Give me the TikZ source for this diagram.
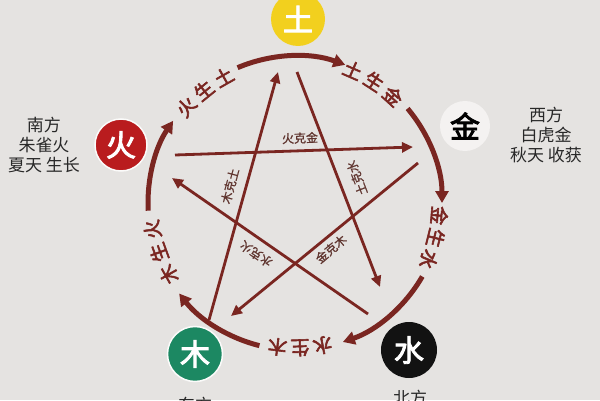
\documentclass[tikz,border=0pt]{standalone}
\usepackage{fontspec}
\usetikzlibrary{arrows.meta}
\newfontfamily\cjk{Noto Sans CJK SC}
\newfontfamily\cjkb{Noto Sans CJK SC}[FakeBold=3]
\newfontfamily\cjkm{Noto Sans CJK SC}[FakeBold=1]
\definecolor{bg}{RGB}{229,227,225}
\definecolor{brn}{RGB}{122,38,33}
\definecolor{lbl}{RGB}{95,52,46}
\definecolor{txt}{RGB}{40,40,40}
\definecolor{fire}{RGB}{185,28,30}
\definecolor{earth}{RGB}{242,208,30}
\definecolor{metal}{RGB}{244,242,241}
\definecolor{wood}{RGB}{28,136,98}
\definecolor{water}{RGB}{18,18,18}
\begin{document}
\begin{tikzpicture}[x=1pt,y=1pt,
  elem/.style={circle,minimum size=#1,inner sep=0pt,font=\cjkb\fontsize{30}{30}\selectfont},
  side/.style={font=\cjk\fontsize{17}{17}\selectfont,text=txt,align=center},
  sheng/.style={brn,line width=5pt,-{Triangle[length=12pt,width=13pt]}},
  ke/.style={brn,line width=2.8pt,-{Triangle[length=11pt,width=10pt]}},
  shlbl/.style={font=\cjkb\fontsize{19}{19}\selectfont,text=brn,inner sep=0pt},
  kelbl/.style={font=\cjkm\fontsize{12}{12}\selectfont,text=lbl,inner sep=0pt}]
\useasboundingbox (0,0) rectangle (600,400);
\clip (0,0) rectangle (600,400);
\fill[bg] (0,0) rectangle (600,400);
\coordinate (C) at (295,197);
% sheng cycle arcs
\draw[sheng] ([shift={(113:147)}]C) arc[start angle=113,end angle=70,radius=147];
\draw[sheng] ([shift={(40:147)}]C) arc[start angle=40,end angle=0,radius=147];
\draw[sheng] ([shift={(-30:147)}]C) arc[start angle=-30,end angle=-71,radius=147];
\draw[sheng] ([shift={(256:147)}]C) arc[start angle=256,end angle=218,radius=147];
\draw[sheng] ([shift={(183:147)}]C) arc[start angle=183,end angle=146,radius=147];
% sheng labels
\foreach \a/\t [count=\i] in {138.5/火,129/生,119.5/土,
  66.5/土,57/生,47.5/金,
  -5/金,-14/生,-23/水,
  -79/水,-88/生,-97/木,
  209.5/木,200/生,190.5/火}{
  \node[shlbl,rotate=\a-90] (s\i) at ([shift={(\a:145)}]C) {\t};
}
% ke (star) arrows
\coordinate (k1a) at (175,245); \coordinate (k1b) at (413,253);
\coordinate (k2a) at (418,237); \coordinate (k2b) at (231,84);
\coordinate (k3a) at (209,80);  \coordinate (k3b) at (278,328);
\coordinate (k4a) at (297,328); \coordinate (k4b) at (380,113);
\coordinate (k5a) at (368,86);  \coordinate (k5b) at (172,222);
\draw[ke] (k1a) -- (k1b);
\draw[ke] (k2a) -- (k2b);
\draw[ke] (k3a) -- (k3b);
\draw[ke] (k4a) -- (k4b);
\draw[ke] (k5a) -- (k5b);
\node[kelbl,rotate=2] (l1) at (300,262) {火克金};
\node[kelbl,rotate=75] (l2) at (230,214) {木克土};
\node[kelbl,rotate=111] (l3) at (357,222) {土克水};
\node[kelbl,rotate=146] (l4) at (256,146) {水克火};
\node[kelbl,rotate=40] (l5) at (331,151) {金克木};
% elements
\node[elem=54pt,fill=earth,text=white] (tu) at (298,381) {土};
\node[elem=50pt,fill=metal,text=black] (jin) at (465,274) {金};
\node[elem=52pt,fill=fire,text=white,draw=white!85!bg,line width=1.5pt] (huo) at (121,255) {火};
\node[elem=55pt,fill=wood,text=white,draw=white!85!bg,line width=1.5pt] (mu) at (195,46) {木};
\node[elem=56pt,fill=water,text=white] (shui) at (409,50) {水};
% side texts
\node[side] (south) at (44,255) {南方\\[3pt]朱雀火\\[3pt]夏天 生长};
\node[side] (west) at (546,265) {西方\\[3pt]白虎金\\[3pt]秋天 收获};
\node[side] (north) at (410,2) {北方};
\node[side] (east) at (195,-5) {东方};
\end{tikzpicture}
\end{document}
